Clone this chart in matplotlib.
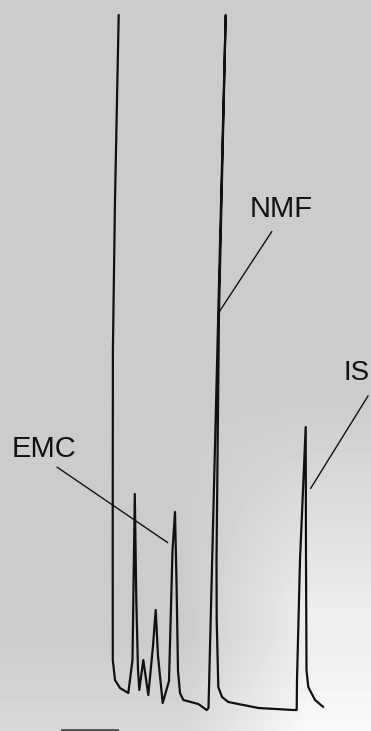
"""
Gas chromatogram (EMC / NMF / internal standard)
================================================
Redraws a scanned chart-recorder trace: solvent front, EMC, NMF and IS peaks.
"""

import numpy as np
import matplotlib.pyplot as plt

# ─── Data ───────────────────────────────────────────────────────────────────
# retention axis in chart units (left → right), detector response (up)

TRACE_TIME = [
    118.7, 115.0, 112.9, 112.7, 112.8, 115.0, 120.0, 128.3,   # solvent tail
    132.5, 134.8, 136.3, 138.0, 139.3,                         # first peak
    143.3, 148.3, 153.0, 155.7, 158.0, 162.7,                  # small peaks
    169.0, 172.5, 175.0, 176.5, 178.0, 180.0, 183.3,           # EMC
    198.3, 206.7, 208.5,
    225.7, 219.0, 216.5, 216.7, 218.3, 222.0, 228.3, 258.3,    # NMF
    293.3, 296.7, 297.0, 300.0, 305.7, 306.0, 306.5, 308.3,    # IS
    315.0, 323.3,
]
TRACE_RESP = [
    716, 531, 381, 181, 71, 51, 43, 38,
    71, 237, 131, 61, 41,
    71, 36, 85, 121, 75, 28,
    50, 180, 219, 150, 60, 38, 31,
    27, 21, 23,
    716, 419, 171, 111, 44, 34, 29, 23,
    21, 21, 51, 171, 304, 171, 61, 44,
    31, 24,
]

PEAK_NAMES = ["EMC", "NMF", "IS"]

# ─── Layout / style ─────────────────────────────────────────────────────────

FIG_W, FIG_H = 371, 731          # pixels at dpi 100
TEXT_XY = [(12, 274), (250, 514), (344, 351)]
LEADERS = [((57.3, 263.7), (167.5, 188.5)),
           ((271.7, 499.3), (219.3, 419.3)),
           ((368.0, 335.0), (310.7, 242.7))]
SCALE_BAR = ((62, 118), 1.5)
INK = "#111111"


def paper_background(ax):
    """Soft grey paper, lighter towards the lower right like the scan."""
    u, v = np.meshgrid(np.linspace(0, 1, 120), np.linspace(0, 1, 240))
    # v = 0 at bottom
    right = np.clip((u - 0.50) * 3.0, 0, 1)
    low = np.clip((0.45 - v) * 3.5, 0, 1)
    shade = 0.80 + 0.13 * right * low + 0.05 * np.clip((0.12 - v) * 8, 0, 1)
    ax.imshow(shade, extent=[0, FIG_W, 0, FIG_H], origin="lower",
              cmap="gray", vmin=0, vmax=1, aspect="auto", zorder=0,
              interpolation="bilinear")


def main():
    plt.rcParams["font.family"] = ["Liberation Sans", "DejaVu Sans"]
    fig = plt.figure(figsize=(FIG_W / 100, FIG_H / 100), dpi=100)
    ax = fig.add_axes([0, 0, 1, 1])
    ax.set_xlim(0, FIG_W)
    ax.set_ylim(0, FIG_H)
    ax.axis("off")

    paper_background(ax)

    # chromatogram trace
    ax.plot(TRACE_TIME, TRACE_RESP, color=INK, linewidth=1.6,
            solid_joinstyle="round", solid_capstyle="round", zorder=3)

    # peak labels + leader lines
    sizes = [21, 21, 20]
    for name, (tx, ty), (p0, p1), fs in zip(PEAK_NAMES, TEXT_XY, LEADERS, sizes):
        ax.text(tx, ty, name, fontsize=fs, color=INK,
                ha="left", va="baseline", zorder=4)
        ax.plot([p0[0], p1[0]], [p0[1], p1[1]], color=INK,
                linewidth=1.0, zorder=4)

    # scale bar at the foot of the chart
    (x0, x1), yb = SCALE_BAR
    ax.plot([x0, x1], [yb, yb], color="#555555", linewidth=1.4, zorder=3)

    fig.savefig("out.png", dpi=100)
    plt.close(fig)


if __name__ == "__main__":
    main()
